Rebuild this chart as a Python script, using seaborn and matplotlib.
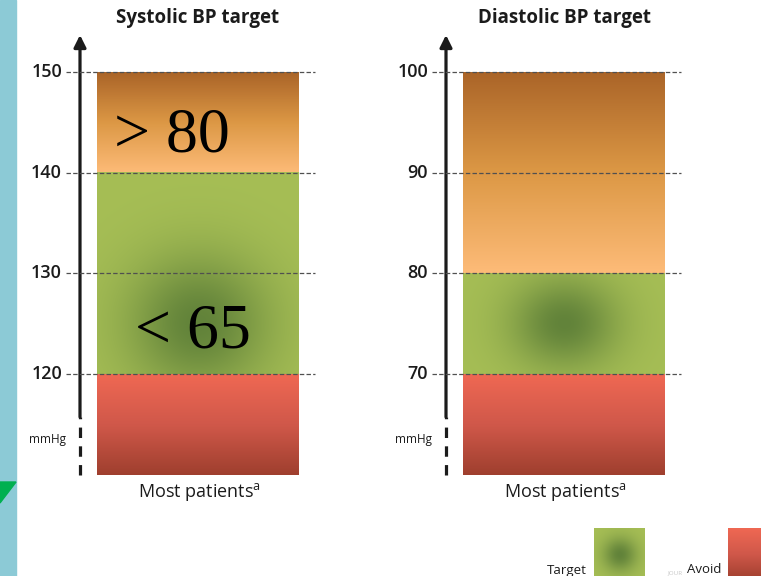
import numpy as np
import pandas as pd
import matplotlib
matplotlib.use("Agg")
import matplotlib.pyplot as plt
import matplotlib.colors as mcolors
from matplotlib.patches import Polygon, Rectangle
import seaborn as sns

# ---- data -------------------------------------------------------------
panels = ["Systolic BP target", "Diastolic BP target"]
band_edges = [[110, 120, 140, 150], [60, 70, 80, 100]]   # avoid / target / high
tick_values = [[120, 130, 140, 150], [70, 80, 90, 100]]
target_centre = [125, 75]
category = "Most patients"
age_labels = [("> 80", 143.6), ("< 65", 124.1)]          # systolic panel only

# ---- style ------------------------------------------------------------
sns.set_theme(style="white")
plt.rcParams["font.family"] = ["Open Sans", "DejaVu Sans"]
plt.rcParams["mathtext.fontset"] = "custom"
plt.rcParams["mathtext.rm"] = "Open Sans"
plt.rcParams["lines.scale_dashes"] = False

W, H = 761, 576
fig = plt.figure(figsize=(W / 100, H / 100), dpi=100)
fig.patch.set_facecolor("white")


def fx(x):
    return x / W


def fy(y):
    return 1 - y / H


ORANGE = ["#fdbb78", "#dc9845", "#aa6428"]   # bottom -> top
RED = ["#9f3f2e", "#d0584a", "#ef6853"]
GREEN = "#a6be55"
GREEN_DARK = "#62833a"
INK = "#1b1b1b"


def vgrad(stops, n=200):
    cmap = mcolors.LinearSegmentedColormap.from_list("g", stops)
    return cmap(np.linspace(0, 1, n))[:, None, :3]


def radial(wpx, hpx, cx, cy, sx, sy):
    yy, xx = np.mgrid[0:hpx, 0:wpx]
    d2 = ((xx - cx) / sx) ** 2 + ((yy - cy) / sy) ** 2
    w = np.exp(-d2 / 2)[..., None]
    base = np.array(mcolors.to_rgb(GREEN))
    dark = np.array(mcolors.to_rgb(GREEN_DARK))
    return base * (1 - w) + dark * w


# slide strip on the left
fig.patches.append(Rectangle((0, 0), fx(16), 1, transform=fig.transFigure,
                             color="#8ccad6", zorder=0))
fig.patches.append(Polygon([(0, fy(482)), (fx(16), fy(482)), (0, fy(503))],
                           closed=True, transform=fig.transFigure,
                           color="#00b050", zorder=1))

bar_x0 = [97, 463]
bar_w = 202
top_px, bot_px = 72, 475
spread = [(50, 48), (38, 32)]

for i, title in enumerate(panels):
    lo, t_lo, t_hi, hi = band_edges[i]
    ax = fig.add_axes([fx(bar_x0[i]), fy(bot_px), bar_w / W, (bot_px - top_px) / H])
    df = pd.DataFrame({"group": [category], "top": [hi]})
    sns.barplot(data=df, x="group", y="top", ax=ax, color="white",
                linewidth=0, width=0.8)
    ax.set_ylim(lo, hi)
    bar = ax.patches[0]
    x0, x1 = bar.get_x(), bar.get_x() + bar.get_width()
    ax.set_xlim(x0, x1)
    for s in ax.spines.values():
        s.set_visible(False)
    ax.set_xticks([])
    ax.set_yticks([])
    ax.set_xlabel("")
    ax.set_ylabel("")
    ax.patch.set_alpha(0)

    px_per_y = (bot_px - top_px) / (hi - lo)
    px_per_x = bar_w / (x1 - x0)

    # bands
    ax.imshow(vgrad(RED), extent=[x0, x1, lo, t_lo], aspect="auto",
              origin="lower", zorder=2)
    ax.imshow(vgrad(ORANGE), extent=[x0, x1, t_hi, hi], aspect="auto",
              origin="lower", zorder=2)
    gh = int(round((t_hi - t_lo) * px_per_y))
    cy = (target_centre[i] - t_lo) * px_per_y
    sx, sy = spread[i]
    ax.imshow(radial(bar_w, gh, bar_w / 2, cy, sx, sy),
              extent=[x0, x1, t_lo, t_hi], aspect="auto", origin="lower",
              zorder=2)

    # dashed reference lines and tick labels
    xl = x0 - 31 / px_per_x
    xr = x1 + 16 / px_per_x
    for v in tick_values[i]:
        ax.plot([xl, xr], [v, v], color="#505050", lw=0.9,
                linestyle=(0, (3.2, 1.6)), clip_on=False, zorder=4)
        ax.text(x0 - 35 / px_per_x, v, str(v), ha="right", va="center",
                fontsize=13, fontweight="semibold", color=INK, clip_on=False)

    # vertical axis arrow with dashed foot
    xa = x0 - 17 / px_per_x
    solid_lo = hi - (417 - top_px) / px_per_y
    tip = hi + (top_px - 35) / px_per_y
    ax.plot([xa, xa], [lo, solid_lo], color=INK, lw=2.3,
            linestyle=(0, (7.5, 6)), solid_capstyle="butt",
            dash_capstyle="butt", clip_on=False)
    ax.annotate("", xy=(xa, tip), xytext=(xa, solid_lo),
                arrowprops=dict(arrowstyle="-|>", lw=2.3, color=INK,
                                mutation_scale=18, shrinkA=0, shrinkB=0),
                annotation_clip=False)
    ax.text(x0 - 49 / px_per_x, hi - (439 - top_px) / px_per_y, "mmHg",
            ha="center", va="center", fontsize=8.5, color=INK, clip_on=False)

    # titles and category label
    xc = (x0 + x1) / 2
    ax.text(xc, hi + (top_px - 18) / px_per_y, title, ha="center",
            va="center", fontsize=13.5, fontweight="bold", color=INK,
            clip_on=False)
    ax.text(xc + 2 / px_per_x, lo - (492 - bot_px) / px_per_y,
            category + r"$^{\mathrm{a}}$", ha="center", va="center",
            fontsize=13, fontweight="medium", color=INK, clip_on=False)

    if i == 0:
        offsets = [-26, -5]
        for (lab, yv), dx in zip(age_labels, offsets):
            ax.text(xc + dx / px_per_x, yv, lab, ha="center", va="center",
                    fontsize=46, family="Liberation Serif", color="black",
                    zorder=6)

# legend swatches
lg = fig.add_axes([fx(594), fy(580), 51 / W, 52 / H])
lg.imshow(radial(51, 52, 25.5, 26, 12, 12), aspect="auto")
lg.set_axis_off()
lr = fig.add_axes([fx(728), fy(580), 40 / W, 52 / H])
lr.imshow(vgrad(RED[::-1]), aspect="auto")
lr.set_axis_off()
fig.text(fx(667), fy(574), "JOUR", fontsize=4.5,
         color="#c8c8c8", va="baseline", ha="left")
fig.text(fx(587), fy(574), "Target", ha="right", va="baseline",
         fontsize=9.5, color=INK)
fig.text(fx(721), fy(573), "Avoid", ha="right", va="baseline",
         fontsize=9.5, color=INK)

fig.savefig("out.png", dpi=100)
